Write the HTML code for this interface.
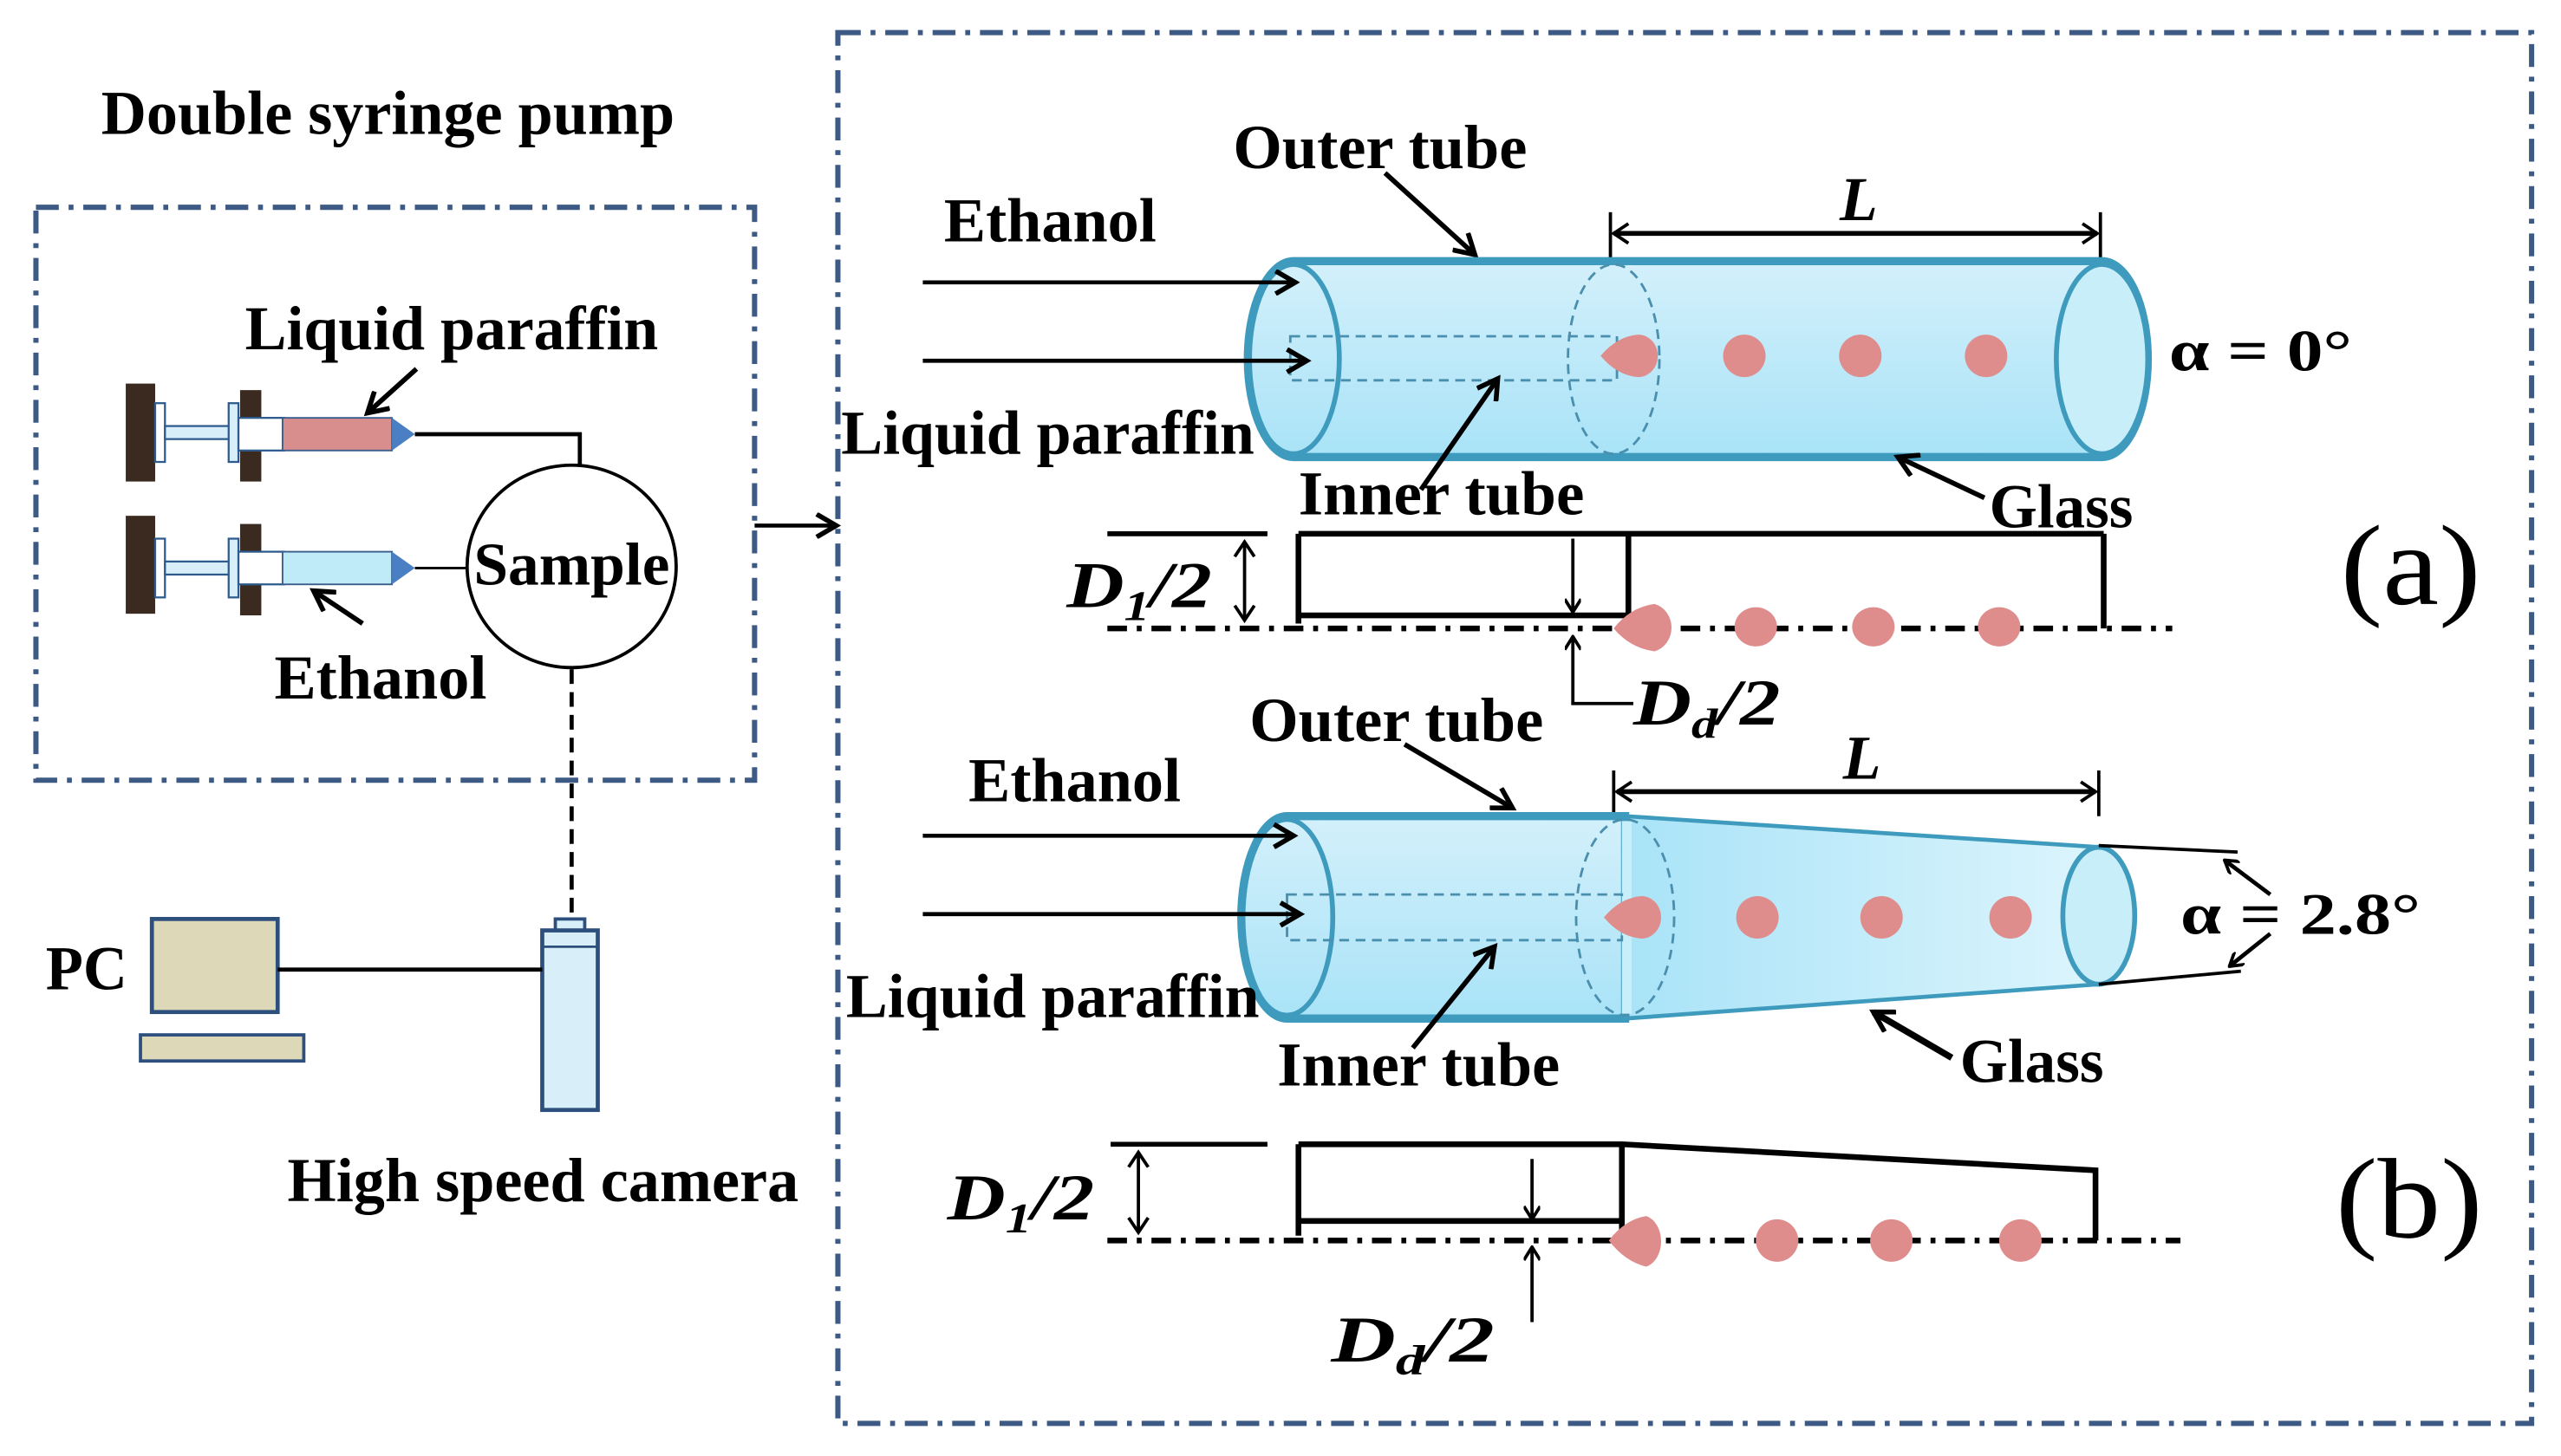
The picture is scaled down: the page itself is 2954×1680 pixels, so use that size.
<!DOCTYPE html>
<html><head><meta charset="utf-8"><style>html,body{margin:0;padding:0;background:#fff}svg{display:block}</style></head>
<body>
<svg width="2954" height="1680" viewBox="0 0 1568 892" preserveAspectRatio="none" xmlns="http://www.w3.org/2000/svg" font-family="'Liberation Serif',serif" font-weight="bold">
<defs>
<marker id="ah" markerWidth="10" markerHeight="10" refX="9" refY="5" orient="auto" markerUnits="userSpaceOnUse"><path d="M1,0 L9,5 L1,10" fill="none" stroke="#000" stroke-width="2"/></marker>
<marker id="ahs" markerWidth="12" markerHeight="14" refX="10" refY="7" orient="auto-start-reverse" markerUnits="userSpaceOnUse"><path d="M1,1 L10,7 L1,13" fill="none" stroke="#000" stroke-width="2"/></marker>
<marker id="ahb" markerWidth="16" markerHeight="16" refX="13" refY="8" orient="auto" markerUnits="userSpaceOnUse"><path d="M1,1 L13,8 L1,15" fill="none" stroke="#000" stroke-width="3"/></marker>
<linearGradient id="tg" x1="0" y1="0" x2="0" y2="1"><stop offset="0" stop-color="#d3f0fb"/><stop offset="1" stop-color="#a9e3f7"/></linearGradient>
<linearGradient id="tg2" x1="0" y1="0" x2="1" y2="0"><stop offset="0" stop-color="#a9e3f7"/><stop offset="1" stop-color="#e0f6fd"/></linearGradient>
</defs>
<g fill="none" stroke="#3d5a85" stroke-width="3.2" stroke-dasharray="14,6,3,6">
<rect x="22" y="127" width="440" height="351"/>
<rect x="513" y="20" width="1037" height="852"/>
</g>
<text x="62" y="82" font-size="38" textLength="351" lengthAdjust="spacingAndGlyphs">Double syringe pump</text>
<!-- syringes -->
<g>
<rect x="77" y="235" width="18" height="60" fill="#3b2a20"/>
<rect x="147" y="239" width="13" height="56" fill="#3b2a20"/>
<rect x="95" y="247" width="6" height="36" fill="#fff" stroke="#2d5b8e" stroke-width="1.2"/>
<rect x="101" y="261" width="40" height="8" fill="#d8eef8" stroke="#2d5b8e" stroke-width="1.2"/>
<rect x="140" y="247" width="6" height="36" fill="#d8eef8" stroke="#2d5b8e" stroke-width="1.2"/>
<rect x="146" y="256" width="28" height="20" fill="#fff" stroke="#2d5b8e" stroke-width="1.2"/>
<rect x="173" y="256" width="67" height="20" fill="#d98e8e" stroke="#3a5d8a" stroke-width="1"/>
<path d="M240,256 L254,266 L240,276Z" fill="#4a7fc4"/>
<rect x="77" y="316" width="18" height="60" fill="#3b2a20"/>
<rect x="147" y="321" width="13" height="56" fill="#3b2a20"/>
<rect x="95" y="330" width="6" height="36" fill="#fff" stroke="#2d5b8e" stroke-width="1.2"/>
<rect x="101" y="344" width="40" height="8" fill="#d8eef8" stroke="#2d5b8e" stroke-width="1.2"/>
<rect x="140" y="330" width="6" height="36" fill="#d8eef8" stroke="#2d5b8e" stroke-width="1.2"/>
<rect x="146" y="338" width="28" height="20" fill="#fff" stroke="#2d5b8e" stroke-width="1.2"/>
<rect x="173" y="338" width="67" height="20" fill="#bfeaf8" stroke="#3a5d8a" stroke-width="1"/>
<path d="M240,338 L254,348 L240,358Z" fill="#4a7fc4"/>
</g>
<polyline points="254,266 355,266 355,285" fill="none" stroke="#000" stroke-width="2.5"/>
<line x1="254" y1="348" x2="286" y2="348" stroke="#000" stroke-width="1.5"/>
<ellipse cx="350" cy="347" rx="64" ry="62" fill="#fff" stroke="#000" stroke-width="2"/>
<text x="350" y="358" font-size="37" text-anchor="middle" textLength="120" lengthAdjust="spacingAndGlyphs">Sample</text>
<text x="150" y="214" font-size="38" textLength="253" lengthAdjust="spacingAndGlyphs">Liquid paraffin</text>
<line x1="255" y1="226" x2="225" y2="253" stroke="#000" stroke-width="3" marker-end="url(#ahb)"/>
<text x="168" y="428" font-size="38" textLength="130" lengthAdjust="spacingAndGlyphs">Ethanol</text>
<line x1="222" y1="382" x2="192" y2="362" stroke="#000" stroke-width="3" marker-end="url(#ahb)"/>
<line x1="462" y1="322" x2="512" y2="322" stroke="#000" stroke-width="2.5" marker-end="url(#ahb)"/>
<line x1="350" y1="410" x2="350" y2="565" stroke="#000" stroke-width="2.5" stroke-dasharray="9,5"/>
<!-- camera -->
<rect x="340" y="563" width="18" height="8" fill="#d8eef8" stroke="#2d4f7e" stroke-width="2"/>
<rect x="332" y="570" width="34" height="110" fill="#d8eef8" stroke="#2d4f7e" stroke-width="2.5"/>
<line x1="332" y1="580" x2="366" y2="580" stroke="#2d4f7e" stroke-width="1.5"/>
<!-- PC -->
<rect x="93" y="563" width="77" height="57" fill="#ddd8b8" stroke="#2d4f7e" stroke-width="2.5"/>
<rect x="86" y="634" width="100" height="16" fill="#ddd8b8" stroke="#2d4f7e" stroke-width="2"/>
<line x1="170" y1="594" x2="332" y2="594" stroke="#000" stroke-width="2.5"/>
<text x="28" y="606" font-size="38" textLength="50" lengthAdjust="spacingAndGlyphs">PC</text>
<text x="176" y="736" font-size="38" textLength="313" lengthAdjust="spacingAndGlyphs">High speed camera</text>

<!-- (a) -->
<text x="578" y="148" font-size="38" textLength="130" lengthAdjust="spacingAndGlyphs">Ethanol</text>
<text x="755" y="103" font-size="38" textLength="180" lengthAdjust="spacingAndGlyphs">Outer tube</text>
<line x1="848" y1="106" x2="903" y2="156" stroke="#000" stroke-width="3" marker-end="url(#ahb)"/>
<text x="1138" y="135" font-size="38" font-style="italic" text-anchor="middle">L</text>
<line x1="986" y1="130" x2="986" y2="160" stroke="#000" stroke-width="2"/>
<line x1="1286" y1="130" x2="1286" y2="160" stroke="#000" stroke-width="2"/>
<line x1="988" y1="143" x2="1284" y2="143" stroke="#000" stroke-width="3" marker-start="url(#ahs)" marker-end="url(#ahs)"/>
<path d="M792,160 L1287,160 A28,60 0 0 1 1287,280 L792,280 A28,60 0 0 1 792,160Z" fill="url(#tg)" stroke="#3e9bbd" stroke-width="5"/>
<ellipse cx="792" cy="220" rx="28" ry="58" fill="none" stroke="#3e9bbd" stroke-width="3"/>
<ellipse cx="1287" cy="220" rx="28" ry="58" fill="#c8eefa" stroke="#3e9bbd" stroke-width="3"/>
<ellipse cx="988" cy="220" rx="28" ry="58" fill="none" stroke="#4a8fae" stroke-width="1.5" stroke-dasharray="6,4"/>
<rect x="790" y="206" width="200" height="27" fill="none" stroke="#4a8fae" stroke-width="1.5" stroke-dasharray="6,4"/>
<g fill="#de8c8c">
<path d="M980,218 Q990,206 1003,205 A12,13 0 0 1 1003,231 Q990,230 980,218Z"/>
<ellipse cx="1068" cy="218" rx="13" ry="13"/><ellipse cx="1139" cy="218" rx="13" ry="13"/><ellipse cx="1216" cy="218" rx="13" ry="13"/>
</g>
<line x1="565" y1="173" x2="793" y2="173" stroke="#000" stroke-width="2.5" marker-end="url(#ahb)"/>
<line x1="565" y1="221" x2="800" y2="221" stroke="#000" stroke-width="2.5" marker-end="url(#ahb)"/>
<text x="515" y="278" font-size="38" textLength="253" lengthAdjust="spacingAndGlyphs">Liquid paraffin</text>
<text x="795" y="315" font-size="38" textLength="175" lengthAdjust="spacingAndGlyphs">Inner tube</text>
<line x1="870" y1="300" x2="917" y2="232" stroke="#000" stroke-width="3" marker-end="url(#ahb)"/>
<text x="1218" y="323" font-size="38" textLength="88" lengthAdjust="spacingAndGlyphs">Glass</text>
<line x1="1215" y1="305" x2="1162" y2="280" stroke="#000" stroke-width="3" marker-end="url(#ahb)"/>
<text x="1328" y="227" font-size="36" textLength="112" lengthAdjust="spacingAndGlyphs">α = 0°</text>
<g stroke="#000" fill="none">
<line x1="678" y1="327" x2="776" y2="327" stroke-width="3"/>
<path d="M795,327 L1288,327 M795,327 L795,382 M997,327 L997,377 M795,377 L997,377 M1288,327 L1288,385" stroke-width="3.5"/>
<line x1="678" y1="385" x2="1330" y2="385" stroke-width="3.5" stroke-dasharray="12,6,3,6"/>
<line x1="762" y1="332" x2="762" y2="380" stroke-width="2" marker-start="url(#ahs)" marker-end="url(#ahs)"/>
<line x1="963" y1="330" x2="963" y2="375" stroke-width="2" marker-end="url(#ah)"/>
<polyline points="1000,431 963,431 963,390" stroke-width="2" marker-end="url(#ah)"/>
</g>
<g fill="#de8c8c">
<path d="M988,385 Q998,372 1013,370 A14,15 0 0 1 1013,399 Q998,397 988,385Z"/>
<ellipse cx="1075" cy="384" rx="13" ry="12"/><ellipse cx="1147" cy="384" rx="13" ry="12"/><ellipse cx="1224" cy="384" rx="13" ry="12"/>
</g>
<text x="653" y="372" font-size="40" font-style="italic" textLength="89" lengthAdjust="spacingAndGlyphs">D<tspan font-size="26" dy="8">1</tspan><tspan dy="-8">/2</tspan></text>
<text x="1000" y="444" font-size="40" font-style="italic" textLength="90" lengthAdjust="spacingAndGlyphs">D<tspan font-size="26" dy="8">d</tspan><tspan dy="-8">/2</tspan></text>
<text x="1433" y="370" font-size="70" font-weight="normal" textLength="86" lengthAdjust="spacingAndGlyphs">(a)</text>

<!-- (b) -->
<text x="593" y="491" font-size="38" textLength="130" lengthAdjust="spacingAndGlyphs">Ethanol</text>
<text x="765" y="454" font-size="38" textLength="180" lengthAdjust="spacingAndGlyphs">Outer tube</text>
<line x1="860" y1="456" x2="926" y2="495" stroke="#000" stroke-width="3" marker-end="url(#ahb)"/>
<text x="1140" y="477" font-size="38" font-style="italic" text-anchor="middle">L</text>
<line x1="988" y1="472" x2="988" y2="500" stroke="#000" stroke-width="2"/>
<line x1="1285" y1="472" x2="1285" y2="500" stroke="#000" stroke-width="2"/>
<line x1="990" y1="485" x2="1283" y2="485" stroke="#000" stroke-width="3" marker-start="url(#ahs)" marker-end="url(#ahs)"/>
<path d="M995,500 L1285,519 A22,42 0 0 1 1285,603 L995,624 Z" fill="url(#tg2)"/>
<path d="M995,500 L1285,519 M995,624 L1285,603" stroke="#3e9bbd" stroke-width="2.5"/>
<path d="M788,500 L995,500 L995,624 L788,624 A28,62 0 0 1 788,500Z" fill="url(#tg)" stroke="#3e9bbd" stroke-width="5"/>
<rect x="993" y="503" width="6" height="118" fill="#c8eefa"/>
<ellipse cx="788" cy="562" rx="28" ry="60" fill="none" stroke="#3e9bbd" stroke-width="3"/>
<ellipse cx="1285" cy="561" rx="22" ry="42" fill="#c8eefa" stroke="#3e9bbd" stroke-width="3"/>
<ellipse cx="995" cy="562" rx="30" ry="60" fill="none" stroke="#4a8fae" stroke-width="1.5" stroke-dasharray="6,4"/>
<rect x="788" y="548" width="205" height="28" fill="none" stroke="#4a8fae" stroke-width="1.5" stroke-dasharray="6,4"/>
<g fill="#de8c8c">
<path d="M982,562 Q992,550 1005,549 A12,13 0 0 1 1005,575 Q992,574 982,562Z"/>
<ellipse cx="1076" cy="562" rx="13" ry="13"/><ellipse cx="1152" cy="562" rx="13" ry="13"/><ellipse cx="1231" cy="562" rx="13" ry="13"/>
</g>
<line x1="565" y1="512" x2="792" y2="512" stroke="#000" stroke-width="2.5" marker-end="url(#ahb)"/>
<line x1="565" y1="560" x2="796" y2="560" stroke="#000" stroke-width="2.5" marker-end="url(#ahb)"/>
<text x="518" y="623" font-size="38" textLength="253" lengthAdjust="spacingAndGlyphs">Liquid paraffin</text>
<text x="782" y="665" font-size="38" textLength="173" lengthAdjust="spacingAndGlyphs">Inner tube</text>
<line x1="865" y1="642" x2="915" y2="580" stroke="#000" stroke-width="3" marker-end="url(#ahb)"/>
<text x="1200" y="663" font-size="38" textLength="88" lengthAdjust="spacingAndGlyphs">Glass</text>
<line x1="1195" y1="648" x2="1147" y2="620" stroke="#000" stroke-width="4" marker-end="url(#ahb)"/>
<line x1="1285" y1="518" x2="1370" y2="522" stroke="#000" stroke-width="2"/>
<line x1="1285" y1="603" x2="1372" y2="595" stroke="#000" stroke-width="2"/>
<line x1="1390" y1="548" x2="1362" y2="527" stroke="#000" stroke-width="2.5" marker-end="url(#ah)"/>
<line x1="1390" y1="572" x2="1365" y2="592" stroke="#000" stroke-width="2.5" marker-end="url(#ah)"/>
<text x="1335" y="572" font-size="36" textLength="147" lengthAdjust="spacingAndGlyphs">α = 2.8°</text>
<g stroke="#000" fill="none">
<line x1="680" y1="701" x2="776" y2="701" stroke-width="3"/>
<path d="M795,701 L993,701 L1283,717 L1283,760 M795,701 L795,757 M993,701 L993,760 M795,748 L993,748" stroke-width="3.5"/>
<line x1="678" y1="760" x2="1335" y2="760" stroke-width="3.5" stroke-dasharray="12,6,3,6"/>
<line x1="697" y1="706" x2="697" y2="755" stroke-width="2" marker-start="url(#ahs)" marker-end="url(#ahs)"/>
<line x1="938" y1="710" x2="938" y2="747" stroke-width="2" marker-end="url(#ah)"/>
<line x1="938" y1="810" x2="938" y2="764" stroke-width="2" marker-end="url(#ah)"/>
</g>
<g fill="#de8c8c">
<path d="M985,760 Q995,747 1008,745 A12,16 0 0 1 1008,776 Q995,773 985,760Z"/>
<ellipse cx="1088" cy="760" rx="13" ry="13"/><ellipse cx="1158" cy="760" rx="13" ry="13"/><ellipse cx="1237" cy="760" rx="13" ry="13"/>
</g>
<text x="580" y="747" font-size="40" font-style="italic" textLength="90" lengthAdjust="spacingAndGlyphs">D<tspan font-size="26" dy="8">1</tspan><tspan dy="-8">/2</tspan></text>
<text x="815" y="834" font-size="40" font-style="italic" textLength="100" lengthAdjust="spacingAndGlyphs">D<tspan font-size="26" dy="8">d</tspan><tspan dy="-8">/2</tspan></text>
<text x="1430" y="758" font-size="70" font-weight="normal" textLength="90" lengthAdjust="spacingAndGlyphs">(b)</text>
</svg>
</body></html>
